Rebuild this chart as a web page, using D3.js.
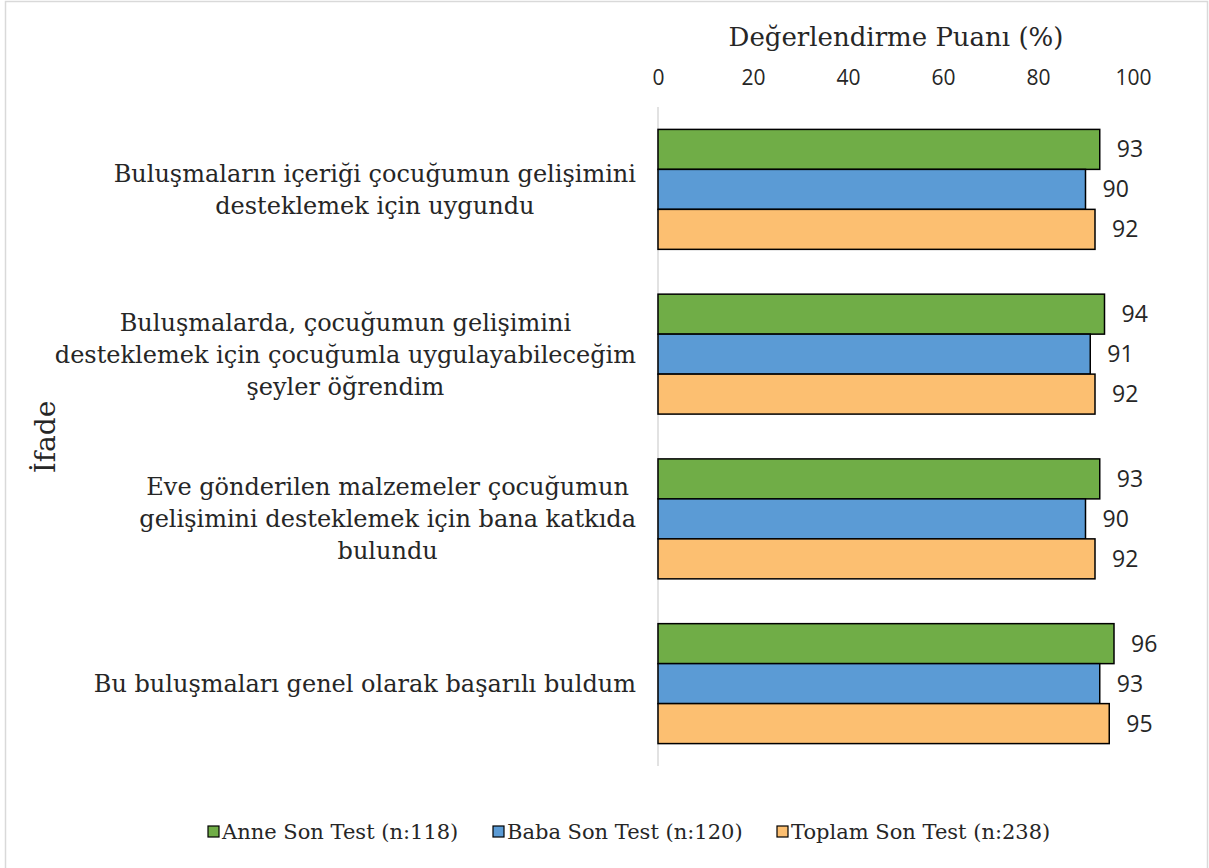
<!DOCTYPE html>
<html><head><meta charset="utf-8">
<script src="https://cdn.jsdelivr.net/npm/d3@7"></script>
<style>
html,body{margin:0;padding:0;background:#fff;}
svg{display:block;}
</style></head>
<body>
<svg id="chart" width="1209" height="868"></svg>
<script>
const categories = [
  ["Buluşmaların içeriği çocuğumun gelişimini", "desteklemek için uygundu"],
  ["Buluşmalarda, çocuğumun gelişimini", "desteklemek için çocuğumla uygulayabileceğim", "şeyler öğrendim"],
  ["Eve gönderilen malzemeler çocuğumun", "gelişimini desteklemek için bana katkıda", "bulundu"],
  ["Bu buluşmaları genel olarak başarılı buldum"]
];
const seriesNames = ["Anne Son Test (n:118)", "Baba Son Test (n:120)", "Toplam Son Test (n:238)"];
const anneValues = [93, 94, 93, 96];
const babaValues = [90, 91, 90, 93];
const toplamValues = [92, 92, 92, 95];
const seriesColors = ["#70ad47", "#5b9bd5", "#fcbf71"];
const xTicks = [0, 20, 40, 60, 80, 100];
const xTitle = "Değerlendirme Puanı (%)";
const yTitle = "İfade";

const serifFont = "'DejaVu Serif', serif";
const sansFont = "'Open Sans', sans-serif";

const svg = d3.select("#chart");
svg.append("rect").attr("x", 5.5).attr("y", 1.5).attr("width", 1202).attr("height", 880)
  .attr("fill", "#fff").attr("stroke", "#d9d9d9").attr("stroke-width", 1.5);

const values = [anneValues, babaValues, toplamValues];
const catIdx = d3.range(categories.length);

const x = d3.scaleLinear().domain([0, 100]).range([658, 1133]);
const y = d3.scaleBand().domain(catIdx).range([107, 766]).paddingInner(0.272).paddingOuter(0.136);
const ySub = d3.scaleBand().domain(d3.range(seriesNames.length)).range([0, y.bandwidth()]);

// vertical axis line
svg.append("line").attr("x1", x(0)).attr("x2", x(0)).attr("y1", 107).attr("y2", 766)
  .attr("stroke", "#d9d9d9").attr("stroke-width", 1.5);

// top axis tick labels
const xAxis = d3.axisTop(x).tickValues(xTicks).tickSize(0).tickPadding(0);
const gx = svg.append("g").attr("transform", "translate(0,85)").call(xAxis);
gx.select(".domain").remove();
gx.selectAll("text").attr("font-family", sansFont).attr("font-size", 21).attr("fill", "#262626");

svg.append("text").attr("x", 896).attr("y", 46).attr("text-anchor", "middle")
  .attr("font-family", serifFont).attr("font-size", 26).attr("fill", "#262626").text(xTitle);

svg.append("text").attr("transform", "translate(55,437) rotate(-90)").attr("text-anchor", "middle")
  .attr("font-family", serifFont).attr("font-size", 28).attr("fill", "#262626").text(yTitle);

// bars
const groups = svg.selectAll("g.cat").data(catIdx).join("g").attr("class", "cat")
  .attr("transform", i => `translate(0,${y(i)})`);

groups.each(function(ci) {
  const g = d3.select(this);
  const data = values.map((arr, si) => ({si, v: arr[ci]}));
  g.selectAll("rect").data(data).join("rect")
    .attr("x", x(0)).attr("y", d => ySub(d.si))
    .attr("width", d => x(d.v) - x(0)).attr("height", ySub.bandwidth())
    .attr("fill", d => seriesColors[d.si]).attr("stroke", "#000").attr("stroke-width", 1.5);
  g.selectAll("text.val").data(data).join("text").attr("class", "val")
    .attr("x", d => x(d.v) + 17).attr("y", d => ySub(d.si) + ySub.bandwidth() / 2)
    .attr("dy", "0.35em").attr("font-family", sansFont).attr("font-size", 23).attr("fill", "#262626")
    .text(d => d.v);

  // category label
  const lines = categories[ci];
  const lh = 32;
  const cy = y.bandwidth() / 2;
  const t = g.append("g");
  const texts = t.selectAll("text").data(lines).join("text")
    .attr("y", (d, k) => cy + (k - (lines.length - 1) / 2) * lh)
    .attr("dy", "0.35em").attr("text-anchor", "middle")
    .attr("font-family", serifFont).attr("font-size", 24).attr("fill", "#262626").text(d => d);
  let maxW = 0;
  texts.each(function() { maxW = Math.max(maxW, this.getComputedTextLength()); });
  texts.attr("x", 636 - maxW / 2);
});

// legend
const legendX = [208, 493, 777];
const lg = svg.selectAll("g.leg").data(seriesNames).join("g").attr("class", "leg")
  .attr("transform", (d, i) => `translate(${legendX[i]},832)`);
lg.append("rect").attr("x", 0).attr("y", -6).attr("width", 11).attr("height", 11)
  .attr("fill", (d, i) => seriesColors[i]).attr("stroke", "#000").attr("stroke-width", 1.2);
lg.append("text").attr("x", 14).attr("dy", "0.35em").attr("font-family", serifFont)
  .attr("font-size", 21).attr("fill", "#262626").text(d => d);
</script>
</body></html>
